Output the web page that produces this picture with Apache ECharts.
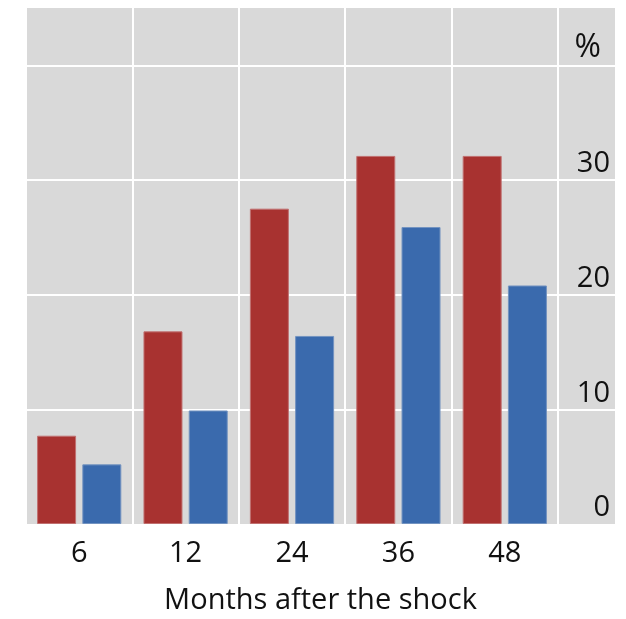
<!DOCTYPE html>
<html>
<head>
<meta charset="utf-8">
<script src="https://cdn.jsdelivr.net/npm/echarts@6/dist/echarts.min.js"></script>
<style>
  html, body { margin: 0; padding: 0; background: #fff; }
  #chart { width: 626px; height: 619px; }
</style>
</head>
<body>
<div id="chart"></div>
<script>
// months after the shock
const categories = ['6', '12', '24', '36', '48'];
const redValues = [7.7, 16.8, 27.5, 32.1, 32.1];
const blueValues = [5.2, 9.9, 16.4, 25.9, 20.8];
const yTickLabels = { 0: '0', 10: '10', 20: '20', 30: '30', 40: '{unit|%}' };
const xAxisTitle = 'Months after the shock';

const font = '"Open Sans", "Noto Sans", sans-serif';
const chart = echarts.init(document.getElementById('chart'));

chart.setOption({
    animation: false,
    grid: [
        // full gray panel, holds the value axis and its lines
        { left: 26, right: 11, top: 8, bottom: 95, show: true, backgroundColor: '#d9d9d9', borderWidth: 0, outerBoundsMode: 'none' },
        // bar area
        { left: 26, right: 68, top: 8, bottom: 95, outerBoundsMode: 'none' }
    ],
    xAxis: [
        {
            gridIndex: 0,
            type: 'category',
            data: [''],
            name: xAxisTitle,
            nameLocation: 'middle',
            nameGap: 62,
            nameTextStyle: { fontFamily: font, fontSize: 29, color: '#111' },
            axisLine: { show: false },
            axisTick: { show: false },
            axisLabel: { show: false },
            splitLine: { show: false }
        },
        {
            gridIndex: 1,
            type: 'category',
            data: categories,
            axisLine: { show: false },
            axisTick: { show: false },
            axisLabel: {
                margin: 15,
                fontFamily: font,
                fontSize: 29,
                color: '#111'
            },
            splitLine: {
                show: true,
                interval: 0,
                lineStyle: { color: '#ffffff', width: 2 }
            }
        }
    ],
    yAxis: [
        {
            gridIndex: 0,
            type: 'value',
            position: 'right',
            min: 0,
            max: 45,
            interval: 10,
            axisLine: { show: false },
            axisTick: { show: false },
            axisLabel: {
                inside: true,
                margin: 5,
                fontFamily: font,
                fontSize: 29,
                color: '#111',
                verticalAlign: 'bottom',
                lineHeight: 32,
                formatter: function (v) {
                    return yTickLabels[v] !== undefined ? yTickLabels[v] : '';
                },
                rich: {
                    unit: {
                        fontFamily: font,
                        fontSize: 32,
                        color: '#111',
                        lineHeight: 34,
                        padding: [0, 9, 0, 0]
                    }
                }
            },
            splitLine: {
                show: true,
                showMinLine: false,
                showMaxLine: false,
                lineStyle: { color: '#ffffff', width: 2 }
            }
        },
        {
            gridIndex: 1,
            type: 'value',
            min: 0,
            max: 45,
            interval: 10,
            show: false,
            splitLine: { show: false }
        }
    ],
    series: [
        {
            type: 'bar',
            xAxisIndex: 1,
            yAxisIndex: 1,
            data: redValues,
            barWidth: 39,
            barGap: '16%',
            itemStyle: { color: '#a83230', borderColor: '#c07070', borderWidth: 1 }
        },
        {
            type: 'bar',
            xAxisIndex: 1,
            yAxisIndex: 1,
            data: blueValues,
            barWidth: 39,
            barGap: '16%',
            itemStyle: { color: '#3a6aad', borderColor: '#7393c0', borderWidth: 1 }
        }
    ]
});
</script>
</body>
</html>
